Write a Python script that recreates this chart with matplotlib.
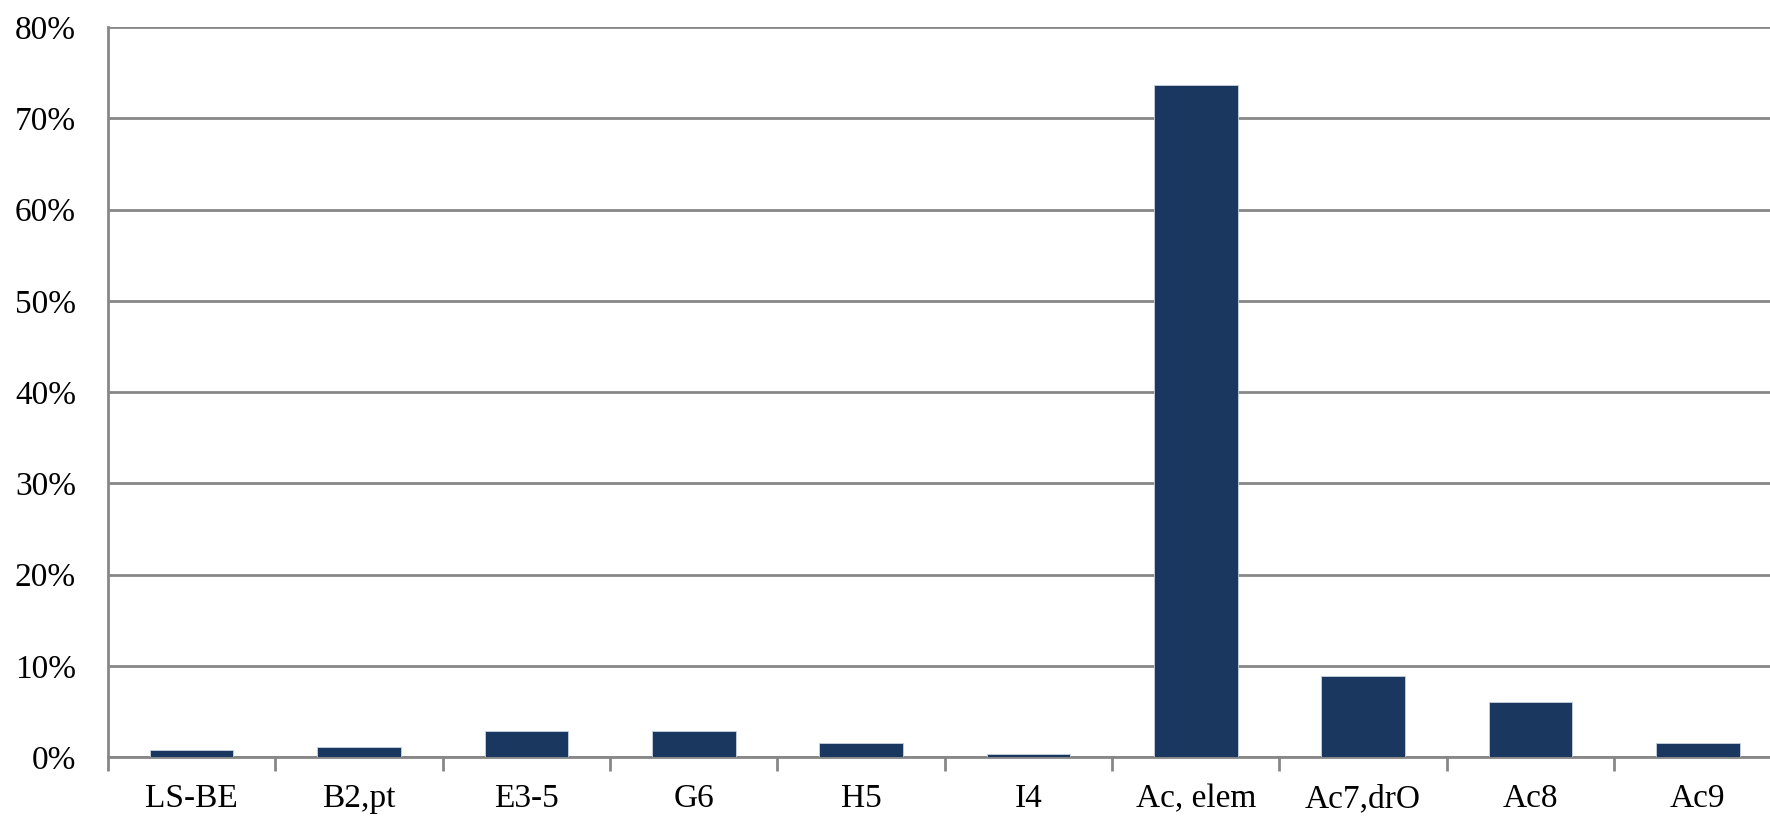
import numpy as np
import matplotlib
matplotlib.use('Agg')
import matplotlib.pyplot as plt
from matplotlib.ticker import FuncFormatter, MultipleLocator

categories = ['LS-BE', 'B2,pt', 'E3-5', 'G6', 'H5', 'I4', 'Ac, elem', 'Ac7,drO', 'Ac8', 'Ac9']
shares = [0.75, 1.15, 2.8, 2.8, 1.55, 0.35, 73.7, 8.9, 6.05, 1.55]

plt.rcParams['font.family'] = ['Liberation Serif', 'DejaVu Serif']

fig = plt.figure(figsize=(17.7, 8.17), dpi=100)
# the plot area runs a little past the right edge, as in the original
ax = fig.add_axes([0.061, 0.0734, 0.9455, 0.8935])

x = np.arange(len(categories))
ax.bar(x, shares, width=0.5, color='#1a375f', edgecolor='#c8d2e0', linewidth=0.6, zorder=3)

ax.set_xlim(-0.5, len(categories) - 0.5)
ax.set_ylim(0, 80)
ax.yaxis.set_major_locator(MultipleLocator(10))
ax.yaxis.set_major_formatter(FuncFormatter(lambda v, p: f'{v:.0f}%'))
ax.grid(axis='y', color='#878787', linewidth=2, zorder=0)

ax.set_xticks(x)
ax.set_xticklabels(categories)
ax.set_xticks(np.arange(len(categories) + 1) - 0.5, minor=True)
ax.tick_params(axis='x', which='major', length=0, pad=19, labelsize=24)
ax.tick_params(axis='x', which='minor', length=10, width=2, color='#878787')
ax.tick_params(axis='y', length=0, pad=23, labelsize=24)

for side in ['top', 'right']:
    ax.spines[side].set_visible(False)
for side in ['left', 'bottom']:
    ax.spines[side].set_color('#878787')
    ax.spines[side].set_linewidth(2)

fig.savefig('out.png', dpi=100)
